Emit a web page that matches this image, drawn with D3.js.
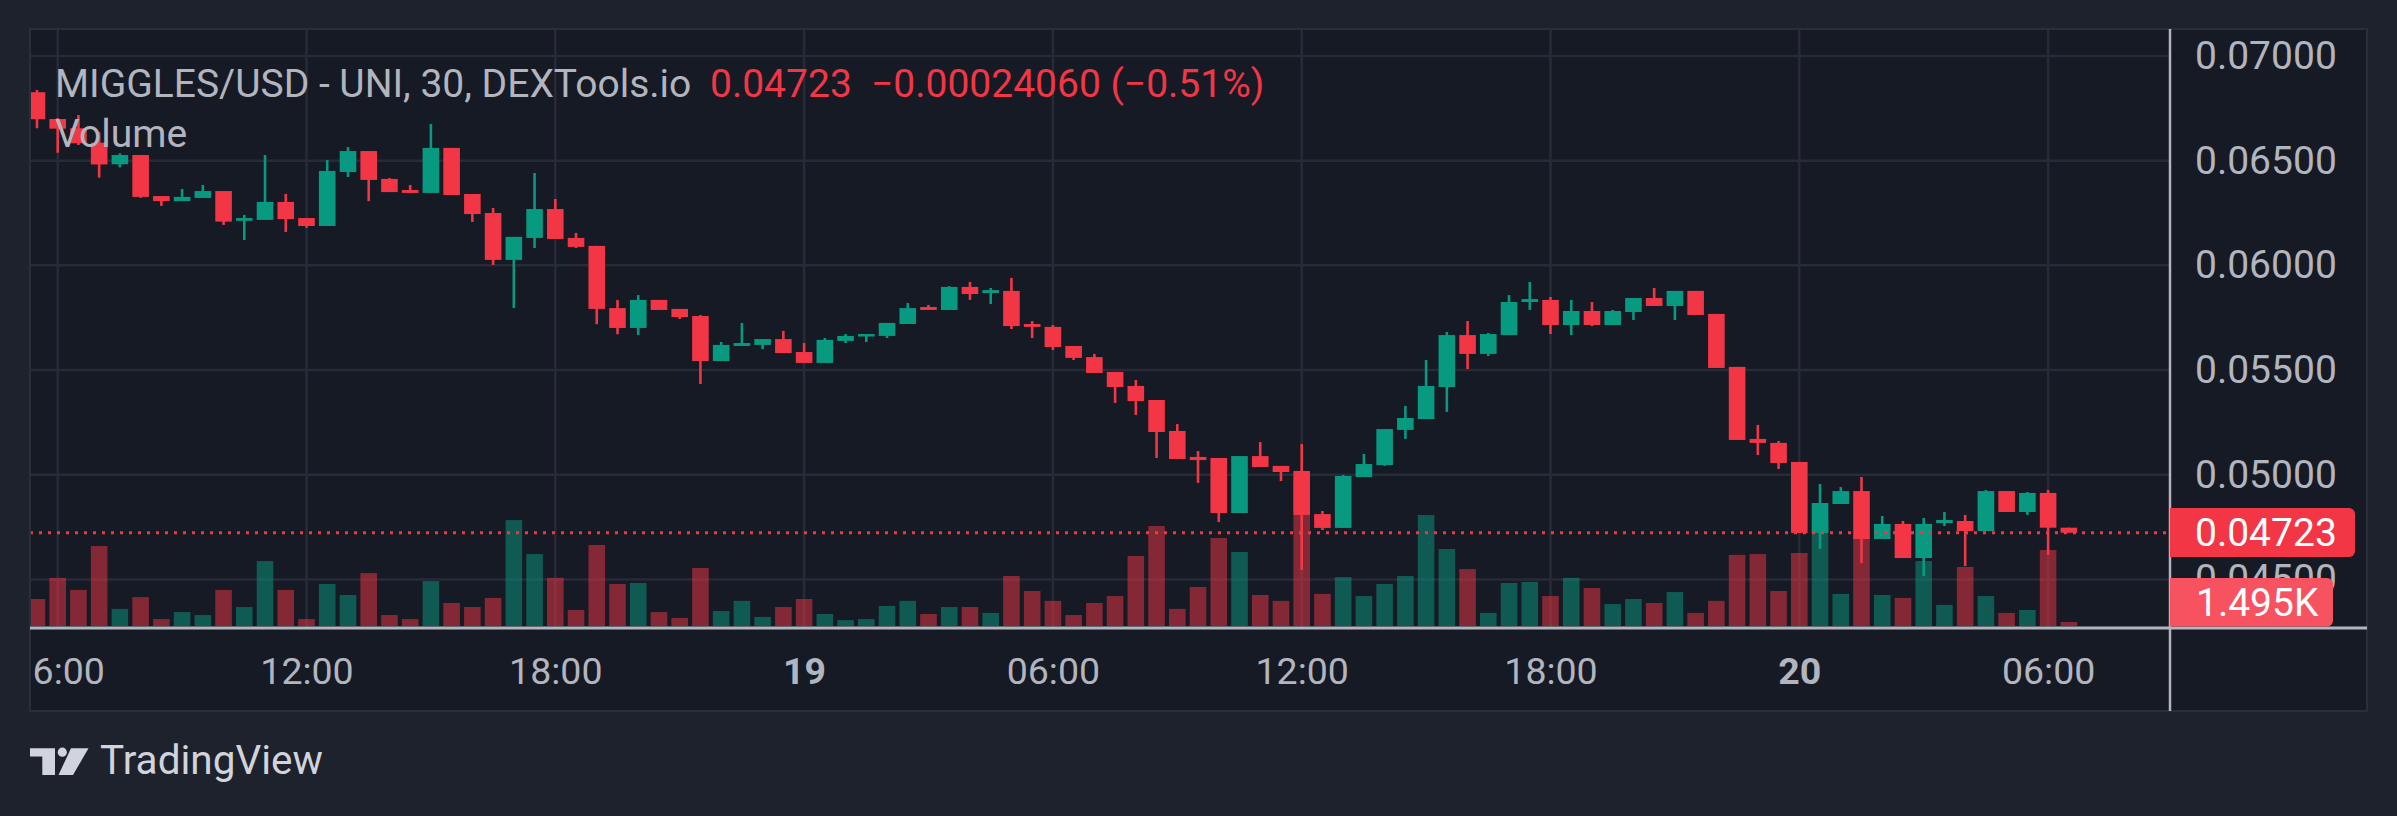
<!DOCTYPE html>
<html><head><meta charset="utf-8">
<script src="https://cdn.jsdelivr.net/npm/d3@7"></script>
<style>html,body{margin:0;padding:0;background:#1e222d;overflow:hidden}</style>
</head><body><svg id="c" width="2397" height="816"></svg>
<script>
// ---- data (30-minute candles, MIGGLES/USD) ----
const opens  = [0.06827,0.06699,0.06655,0.06586,0.06483,0.06527,0.06331,0.06307,0.06322,0.06355,0.06213,0.06217,0.06303,0.06226,0.06188,0.06446,0.06546,0.06413,0.06360,0.06346,0.06561,0.06341,0.06250,0.06026,0.06131,0.06269,0.06131,0.06093,0.05796,0.05701,0.05835,0.05792,0.05758,0.05543,0.05615,0.05620,0.05648,0.05586,0.05534,0.05639,0.05663,0.05663,0.05720,0.05801,0.05787,0.05897,0.05868,0.05878,0.05720,0.05706,0.05615,0.05562,0.05491,0.05424,0.05357,0.05209,0.05085,0.05080,0.04817,0.05089,0.05042,0.05018,0.04812,0.04746,0.04989,0.05046,0.05214,0.05266,0.05419,0.05667,0.05577,0.05667,0.05825,0.05835,0.05715,0.05782,0.05715,0.05777,0.05844,0.05806,0.05878,0.05768,0.05515,0.05171,0.05152,0.05061,0.04722,0.04860,0.04922,0.04693,0.04765,0.04602,0.04769,0.04779,0.04731,0.04922,0.04822,0.04913,0.04747];
const highs  = [0.06838,0.06704,0.06718,0.06636,0.06535,0.06527,0.06331,0.06365,0.06384,0.06355,0.06241,0.06527,0.06341,0.06226,0.06503,0.06565,0.06546,0.06417,0.06384,0.06675,0.06561,0.06341,0.06274,0.06136,0.06441,0.06317,0.06155,0.06093,0.05835,0.05858,0.05835,0.05792,0.05763,0.05634,0.05725,0.05648,0.05687,0.05629,0.05653,0.05672,0.05672,0.05725,0.05820,0.05811,0.05901,0.05921,0.05892,0.05940,0.05734,0.05715,0.05615,0.05577,0.05491,0.05452,0.05357,0.05242,0.05113,0.05080,0.05089,0.05156,0.05042,0.05147,0.04827,0.04999,0.05099,0.05218,0.05328,0.05548,0.05682,0.05734,0.05677,0.05858,0.05921,0.05849,0.05835,0.05825,0.05787,0.05844,0.05892,0.05878,0.05878,0.05768,0.05515,0.05238,0.05161,0.05061,0.04956,0.04941,0.04989,0.04803,0.04779,0.04793,0.04822,0.04808,0.04927,0.04922,0.04917,0.04927,0.04747];
const lows   = [0.06655,0.06538,0.06575,0.06419,0.06468,0.06322,0.06284,0.06307,0.06322,0.06193,0.06121,0.06217,0.06159,0.06179,0.06188,0.06422,0.06307,0.06350,0.06346,0.06346,0.06336,0.06207,0.06002,0.05796,0.06083,0.06126,0.06083,0.05719,0.05671,0.05667,0.05787,0.05744,0.05433,0.05543,0.05615,0.05600,0.05581,0.05534,0.05534,0.05629,0.05634,0.05653,0.05720,0.05787,0.05787,0.05835,0.05815,0.05696,0.05653,0.05596,0.05548,0.05486,0.05343,0.05285,0.05080,0.05075,0.04961,0.04774,0.04817,0.05037,0.04970,0.04545,0.04736,0.04746,0.04989,0.05042,0.05171,0.05266,0.05300,0.05505,0.05567,0.05667,0.05787,0.05672,0.05667,0.05710,0.05715,0.05739,0.05806,0.05739,0.05763,0.05510,0.05166,0.05094,0.05027,0.04722,0.04645,0.04860,0.04578,0.04693,0.04602,0.04516,0.04755,0.04564,0.04731,0.04822,0.04808,0.04617,0.04723];
const closes = [0.06698,0.06653,0.06583,0.06482,0.06527,0.06327,0.06307,0.06327,0.06355,0.06209,0.06226,0.06303,0.06221,0.06188,0.06451,0.06546,0.06408,0.06350,0.06346,0.06561,0.06336,0.06245,0.06026,0.06136,0.06269,0.06126,0.06088,0.05792,0.05701,0.05835,0.05787,0.05753,0.05543,0.05620,0.05629,0.05648,0.05581,0.05534,0.05644,0.05663,0.05672,0.05725,0.05796,0.05787,0.05897,0.05863,0.05882,0.05710,0.05706,0.05610,0.05558,0.05486,0.05419,0.05352,0.05204,0.05075,0.05070,0.04817,0.05089,0.05037,0.05013,0.04808,0.04746,0.04994,0.05051,0.05218,0.05271,0.05424,0.05667,0.05577,0.05672,0.05825,0.05839,0.05715,0.05782,0.05715,0.05782,0.05844,0.05806,0.05878,0.05763,0.05510,0.05166,0.05152,0.05056,0.04722,0.04865,0.04922,0.04693,0.04765,0.04602,0.04765,0.04784,0.04731,0.04922,0.04822,0.04913,0.04747,0.04723];
const volumes = [10100,18000,13500,29900,6400,10800,2600,5200,4100,13500,7100,24300,13500,2600,15700,11600,19800,4100,2600,16800,8600,7100,10500,39600,26900,18000,6000,30300,15700,16100,5200,3000,21700,5600,9400,3400,7100,10100,4500,2200,2600,7500,9400,4500,7100,7100,4900,18700,13100,9400,4100,8600,11200,26200,37400,6400,14600,32900,27700,11600,9400,55400,12000,18300,11200,15700,18700,41500,28800,21300,4900,16100,16500,11200,18000,14200,8200,10100,8600,12700,4900,9400,26600,26900,13100,27300,39300,12000,33300,11600,10500,24300,7900,22100,11200,4900,6000,28400,1495];
const priceTicks = [0.045,0.050,0.055,0.060,0.065,0.070];
const timeTickLabels = ["06:00","12:00","18:00","19","06:00","12:00","18:00","20","06:00"];
const titleText = "MIGGLES/USD - UNI, 30, DEXTools.io";
const lastPriceText = "0.04723";
const changeText = "\u22120.00024060 (\u22120.51%)";
const lastVolumeText = "1.495K";

// ---- layout ----
const W = 2397, H = 816;
const panel = {x0:30, y0:29, x1:2367, y1:711};
const axisX = 2170, axisY = 628;
const UP = "#089981", DOWN = "#f23645";
const FONT = "Roboto, 'Noto Sans', sans-serif";

const svg = d3.select("#c");
svg.append("rect").attr("width",W).attr("height",H).attr("fill","#1e222d");
svg.append("rect").attr("x",panel.x0).attr("y",panel.y0)
  .attr("width",panel.x1-panel.x0).attr("height",panel.y1-panel.y0)
  .attr("fill","#161a25").attr("stroke","#2a2e39").attr("stroke-width",2);

const defs = svg.append("defs");
defs.append("clipPath").attr("id","plot").append("rect")
  .attr("x",panel.x0+1).attr("y",panel.y0+1).attr("width",axisX-panel.x0-1).attr("height",axisY-panel.y0-1);
defs.append("clipPath").attr("id","taxis").append("rect")
  .attr("x",panel.x0+1).attr("y",axisY).attr("width",axisX-panel.x0-1).attr("height",panel.y1-axisY);

const t0 = Date.UTC(2024,5,18,5,30);
const times = opens.map((_,i)=> new Date(t0 + i*30*60*1000));
const tickTimes = timeTickLabels.map((_,i)=> new Date(Date.UTC(2024,5,18,6) + i*6*3600*1000));

const x = d3.scaleUtc()
  .domain([new Date(Date.UTC(2024,5,18,6)), new Date(Date.UTC(2024,5,20,6))])
  .range([57.7, 57.7 + 8*248.8]);
const y = d3.scaleLinear().domain([0.045,0.070]).range([579.4,56]);
const yv = d3.scaleLinear().domain([0,60000]).range([626, 626-60000*2.674/1000]);
const bw = 16.6;

const plot = svg.append("g").attr("clip-path","url(#plot)");

// grid
plot.selectAll("line.hg").data(priceTicks).join("line")
  .attr("x1",panel.x0).attr("x2",axisX).attr("y1",d=>y(d)).attr("y2",d=>y(d))
  .attr("stroke","#272b37").attr("stroke-width",2.5);
plot.selectAll("line.vg").data(tickTimes).join("line")
  .attr("x1",d=>x(d)).attr("x2",d=>x(d)).attr("y1",panel.y0).attr("y2",axisY)
  .attr("stroke","#272b37").attr("stroke-width",2.5);

const up = i => closes[i] >= opens[i];

// volume
plot.selectAll("rect.vol").data(volumes).join("rect")
  .attr("x",(d,i)=>x(times[i])-bw/2).attr("width",bw)
  .attr("y",d=>yv(d)).attr("height",d=>yv(0)-yv(d))
  .attr("fill",(d,i)=>up(i)?UP:DOWN).attr("fill-opacity",0.5);

// candles
const cg = plot.selectAll("g.c").data(opens).join("g");
cg.append("line")
  .attr("x1",(d,i)=>x(times[i])).attr("x2",(d,i)=>x(times[i]))
  .attr("y1",(d,i)=>y(highs[i])).attr("y2",(d,i)=>y(lows[i]))
  .attr("stroke",(d,i)=>up(i)?UP:DOWN).attr("stroke-width",2.6);
cg.append("rect")
  .attr("x",(d,i)=>x(times[i])-bw/2).attr("width",bw)
  .attr("y",(d,i)=>y(Math.max(opens[i],closes[i])))
  .attr("height",(d,i)=>Math.max(2.5, Math.abs(y(opens[i])-y(closes[i]))))
  .attr("fill",(d,i)=>up(i)?UP:DOWN);

// last price dotted line
const lastP = closes[closes.length-1];
plot.append("line").attr("x1",panel.x0).attr("x2",axisX)
  .attr("y1",y(lastP)).attr("y2",y(lastP))
  .attr("stroke",DOWN).attr("stroke-width",3).attr("stroke-dasharray","3 6");

// axis lines
svg.append("line").attr("x1",panel.x0).attr("x2",panel.x1).attr("y1",axisY).attr("y2",axisY)
  .attr("stroke","#b2b5be").attr("stroke-width",3);
svg.append("line").attr("x1",axisX).attr("x2",axisX).attr("y1",panel.y0).attr("y2",panel.y1)
  .attr("stroke","#b2b5be").attr("stroke-width",2.5);

// price axis
const pa = svg.append("g").attr("transform",`translate(${axisX},0)`)
  .call(d3.axisRight(y).tickValues(priceTicks).tickFormat(d3.format(".5f")).tickSize(0).tickPadding(25));
pa.select(".domain").remove();
pa.selectAll("text").attr("fill","#b2b5be").attr("font-size",39).attr("font-family",FONT).attr("text-anchor","start");

// price tag
const tag = svg.append("g");
tag.append("path").attr("d",`M${axisX},508 H2349 a6,6 0 0 1 6,6 V551 a6,6 0 0 1 -6,6 H${axisX} Z`).attr("fill",DOWN);
tag.append("text").attr("x",2195).attr("y",y(lastP)).attr("dy","0.35em").text(lastPriceText)
  .attr("fill","#fff").attr("font-size",39).attr("font-family",FONT);
const vtag = svg.append("g");
vtag.append("path").attr("d",`M${axisX},578 H2327 a6,6 0 0 1 6,6 V620.5 a6,6 0 0 1 -6,6 H${axisX} Z`).attr("fill","#f7525f");
vtag.append("text").attr("x",2196).attr("y",602.5).attr("dy","0.35em").text(lastVolumeText)
  .attr("fill","#fff").attr("font-size",39).attr("font-family",FONT);

// time axis
const ta = svg.append("g").attr("clip-path","url(#taxis)").append("g")
  .attr("transform",`translate(0,${axisY})`)
  .call(d3.axisBottom(x).tickValues(tickTimes).tickFormat((d,i)=>timeTickLabels[i]).tickSize(0).tickPadding(0));
ta.select(".domain").remove();
ta.selectAll("text").attr("y",56).attr("dy",0)
  .attr("fill","#b2b5be").attr("font-size",37.5).attr("font-family",FONT)
  .attr("font-weight",(d,i)=>timeTickLabels[i].length<=2?"bold":"normal");

// legend texts
svg.append("text").attr("x",55).attr("y",97).text(titleText)
  .attr("fill","#b2b5be").attr("font-size",39).attr("font-family",FONT);
svg.append("text").attr("x",710).attr("y",97).text(lastPriceText)
  .attr("fill",DOWN).attr("font-size",39).attr("font-family",FONT);
svg.append("text").attr("x",871).attr("y",97).text(changeText)
  .attr("fill",DOWN).attr("font-size",39).attr("font-family",FONT);
svg.append("text").attr("x",55).attr("y",147).text("Volume")
  .attr("fill","#b2b5be").attr("font-size",39).attr("font-family",FONT);

// TradingView logo
const logo = svg.append("g").attr("fill","#d1d4dc");
logo.append("path").attr("d","M30,748.3 H55 V775 H42.3 V756.5 H30 Z");
logo.append("circle").attr("cx",62.3).attr("cy",752.2).attr("r",4.6);
logo.append("path").attr("d","M71,748.3 H88.5 L73,775 H58.5 Z");
svg.append("text").attr("x",100).attr("y",774).text("TradingView")
  .attr("fill","#d1d4dc").attr("font-size",40.5).attr("font-family",FONT);
</script></body></html>
